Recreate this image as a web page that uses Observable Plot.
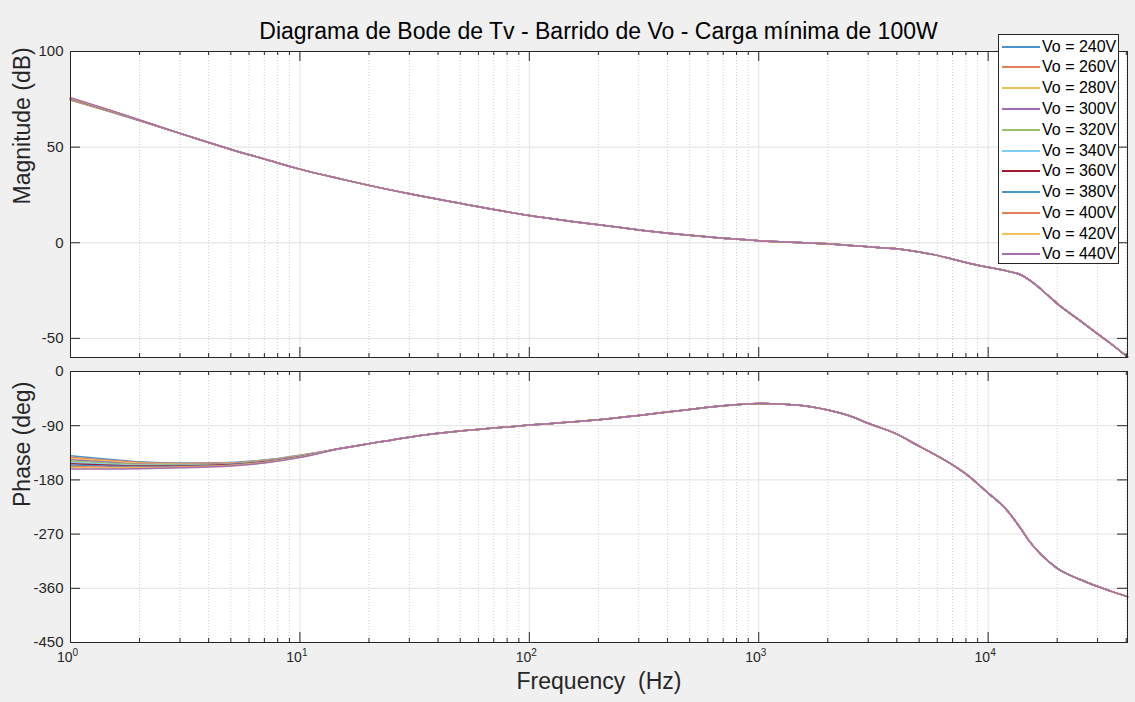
<!DOCTYPE html>
<html>
<head>
<meta charset="utf-8">
<script src="https://cdn.jsdelivr.net/npm/d3@7"></script>
<script src="https://cdn.jsdelivr.net/npm/@observablehq/plot@0.6"></script>
<style>
  body { margin: 0; background: #f0f0f0; font-family: "Liberation Sans", Arial, sans-serif; }
  #wrap { position: relative; width: 1135px; height: 702px; overflow: hidden; background: #f0f0f0; }
  #title { height: 40px; box-sizing: border-box; padding: 19px 8px 0 70px; text-align: center;
           font-size: 23px; line-height: 24px; color: #000; white-space: nowrap; }
  #legend { position: absolute; left: 998px; top: 34px; width: 121px; height: 230px; box-sizing: border-box;
            border: 1px solid #262626; background: #fff; }
  .item { position: absolute; left: 0; height: 20px; display: flex; align-items: center; }
  .swatch { width: 38px; height: 0; margin-left: 3px; border-top: 2px solid; }
  .lab { margin-left: 2px; font-size: 16px; color: #000; white-space: nowrap; }
  svg { display: block; }
</style>
</head>
<body>
<div id="wrap">
  <div id="title">Diagrama de Bode de Tv - Barrido de Vo - Carga mínima de 100W</div>
  <div id="top"></div>
  <div id="bottom"></div>
  <div id="legend"></div>
</div>
<script>
// ---------------- data ----------------
const vo = [240, 260, 280, 300, 320, 340, 360, 380, 400, 420, 440];
const colors = ["#4a94cc", "#e2805a", "#f1c45a", "#a46db0", "#98c26a", "#7ed0f2",
                "#a2142f", "#4a94cc", "#e2805a", "#f1c45a", "#a46db0"];

// low-frequency points where the curves differ per Vo
const freqLow = [1, 1.5, 2, 3, 5, 7, 10];
const magLow = [
  [74.6, 68.4, 63.80, 57.2, 48.8, 43.8, 38.5],
  [74.75, 68.5, 63.85, 57.2, 48.8, 43.8, 38.5],
  [74.9, 68.6, 63.90, 57.2, 48.8, 43.8, 38.5],
  [75.0, 68.7, 63.95, 57.2, 48.8, 43.8, 38.5],
  [75.15, 68.8, 64.00, 57.2, 48.8, 43.8, 38.5],
  [75.25, 68.85, 64.00, 57.2, 48.8, 43.8, 38.5],
  [75.4, 68.9, 64.05, 57.2, 48.8, 43.8, 38.5],
  [75.5, 69.0, 64.10, 57.2, 48.8, 43.8, 38.5],
  [75.6, 69.05, 64.10, 57.2, 48.8, 43.8, 38.5],
  [75.75, 69.1, 64.15, 57.2, 48.8, 43.8, 38.5],
  [75.9, 69.2, 64.20, 57.2, 48.8, 43.8, 38.5]
];
const phaseLow = [
  [-140, -146, -150, -152, -151, -147, -139],
  [-142.2, -147.6, -151.2, -152.8, -151.6, -147.5, -139.4],
  [-144.4, -149.2, -152.3, -153.6, -152.2, -148, -139.8],
  [-146.6, -150.8, -153.5, -154.4, -152.8, -148.5, -140.2],
  [-148.8, -152.4, -154.6, -155.2, -153.4, -149, -140.6],
  [-151, -154, -155.8, -156, -154, -149.5, -141],
  [-153.2, -155.6, -156.9, -156.8, -154.6, -150, -141.4],
  [-155.4, -157.2, -158.1, -157.6, -155.2, -150.5, -141.8],
  [-157.6, -158.8, -159.2, -158.4, -155.8, -151, -142.2],
  [-159.8, -160.4, -160.4, -159.2, -156.4, -151.5, -142.6],
  [-162, -162, -161.5, -160, -157, -152, -143]
];

// higher-frequency points, common to every Vo
const freqHigh = [15, 20, 30, 50, 70, 100, 150, 200, 300, 500, 700, 1000, 1500, 2000, 2500, 3000,
                  4000, 5000, 6000, 7000, 8000, 10000, 12000, 14000, 15000, 17000, 20000, 25000,
                  30000, 35000, 40500];
const magHigh = [33.4, 30.0, 25.6, 20.6, 17.4, 14.2, 11.3, 9.4, 6.7, 3.9, 2.4, 1.0, 0.1, -0.5, -1.4, -2.1,
                 -3.2, -4.8, -6.6, -8.6, -10.3, -12.8, -14.7, -17.0, -19.2, -24.3, -31.8, -40.5,
                 -47.6, -53.6, -59.8];
const phaseHigh = [-128, -120, -109, -99, -94, -89, -84, -80, -73, -63, -57, -53, -56, -64, -74, -86,
                   -104, -124, -140, -155, -170, -202, -229, -263, -280, -304, -327, -345,
                   -357, -366, -374];

// axes
const magTicks = [-50, 0, 50, 100];
const phaseTicks = [-450, -360, -270, -180, -90, 0];
const decadeTicks = [1, 10, 100, 1000, 10000];
const decadeExps = ["0", "1", "2", "3", "4"];
const minorTicks = [1, 10, 100, 1000, 10000].flatMap(d => [2, 3, 4, 5, 6, 7, 8, 9].map(m => m * d)).filter(v => v < 40500);
const magLabel = "Magnitude (dB)";
const phaseLabel = "Phase (deg)";
const xLabel = "Frequency  (Hz)";

// ---------------- table ----------------
const rows = [];
vo.forEach((v, i) => {
  freqLow.forEach((f, j) => rows.push({vo: v, f, mag: magLow[i][j], phase: phaseLow[i][j]}));
  freqHigh.forEach((f, j) => rows.push({vo: v, f, mag: magHigh[j], phase: phaseHigh[j]}));
});

// ---------------- layout ----------------
const W = 1135, ML = 70, MR = 8;
const frameW = W - ML - MR;
const axisColor = "#262626";
const font = "'Liberation Sans', Arial, sans-serif";

function panel({height, mt, mb, yDomain, yTicks, key, yLabel, showX}) {
  const frameH = height - mt - mb;
  const marks = [
    Plot.frame({fill: "white", stroke: null}),
    Plot.ruleX(minorTicks, {x: d => d, stroke: "#cdcdcd", strokeDasharray: "1,2", strokeWidth: 1}),
    Plot.ruleX(decadeTicks, {x: d => d, stroke: "#e2e2e2"}),
    Plot.ruleY(yTicks, {y: d => d, stroke: "#e2e2e2"}),
    Plot.line(rows, {x: "f", y: key, z: "vo", stroke: "vo", strokeWidth: 1.5, curve: "monotone-x"}),
    Plot.tickX(minorTicks, {x: d => d, insetTop: frameH - 4, stroke: axisColor}),
    Plot.tickX(minorTicks, {x: d => d, insetBottom: frameH - 4, stroke: axisColor}),
    Plot.tickX(decadeTicks, {x: d => d, insetTop: frameH - 10, stroke: axisColor}),
    Plot.tickX(decadeTicks, {x: d => d, insetBottom: frameH - 10, stroke: axisColor}),
    Plot.tickY(yTicks, {y: d => d, insetRight: frameW - 10, stroke: axisColor}),
    Plot.tickY(yTicks, {y: d => d, insetLeft: frameW - 10, stroke: axisColor}),
    Plot.frame({stroke: axisColor}),
    Plot.axisY(yTicks, {tickSize: 0, tickPadding: 7, fontSize: 15, label: null, fill: axisColor,
                        tickFormat: d => String(d)}),
    Plot.text([yLabel], {frameAnchor: "left", rotate: -90, dx: -48, fontSize: 23, fill: axisColor})
  ];
  if (showX) {
    marks.push(
      Plot.text(decadeTicks, {x: d => d, frameAnchor: "bottom", text: () => "10", textAnchor: "end",
                              dx: 2, dy: 19, fontSize: 14, fill: axisColor}),
      Plot.text(decadeTicks, {x: d => d, frameAnchor: "bottom", text: (d, i) => decadeExps[i], textAnchor: "start",
                              dx: 2, dy: 13, fontSize: 10, fill: axisColor}),
      Plot.text([xLabel], {frameAnchor: "bottom", dy: 46, fontSize: 23, fill: axisColor})
    );
  }
  return Plot.plot({
    width: W, height,
    marginLeft: ML, marginRight: MR, marginTop: mt, marginBottom: mb,
    style: {background: "transparent", fontFamily: font, overflow: "visible"},
    x: {type: "log", domain: [1, 40500], axis: null},
    y: {domain: yDomain, axis: null},
    color: {type: "ordinal", domain: vo, range: colors},
    marks
  });
}

document.getElementById("top").appendChild(panel({
  height: 322, mt: 11, mb: 5, yDomain: [-60, 100], yTicks: magTicks, key: "mag", yLabel: magLabel, showX: false
}));
document.getElementById("bottom").appendChild(panel({
  height: 340, mt: 9, mb: 60, yDomain: [-450, 0], yTicks: phaseTicks, key: "phase", yLabel: phaseLabel, showX: true
}));

// legend
const leg = document.getElementById("legend");
vo.forEach((v, i) => {
  const it = document.createElement("div");
  it.className = "item";
  it.style.top = (1.7 + i * 20.76) + "px";
  const sw = document.createElement("div");
  sw.className = "swatch";
  sw.style.borderTopColor = colors[i];
  const lb = document.createElement("div");
  lb.className = "lab";
  lb.textContent = `Vo = ${v}V`;
  it.appendChild(sw); it.appendChild(lb);
  leg.appendChild(it);
});
</script>
</body>
</html>
